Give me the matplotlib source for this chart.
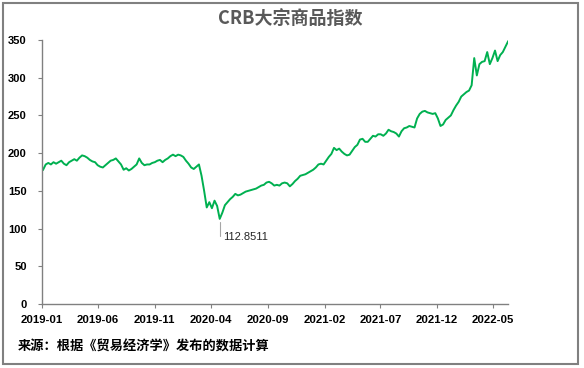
import numpy as np
import pandas as pd
import matplotlib
matplotlib.use('Agg')
import matplotlib.pyplot as plt
from matplotlib.patches import Rectangle

plt.rcParams['font.family'] = ['Liberation Sans', 'Noto Sans CJK SC', 'DejaVu Sans']

# weekly readings of the CRB index (first week of 2019 onward)
start_date = "2019-01-04"
crb_values = [
    178, 185, 187, 185, 188, 186, 188, 190, 186, 184,
    188, 190, 192, 190, 194, 197, 196, 194, 191, 189,
    188, 184, 182, 181, 184, 187, 190, 191, 193, 189,
    185, 178, 180, 177, 179, 182, 185, 193, 187, 184,
    185, 185, 187, 188, 190, 191, 188, 191, 193, 196,
    198, 196, 198, 197, 195, 190, 186, 181, 179, 182,
    185, 170, 150, 128, 135, 127, 137, 130, 112.8511, 121,
    131, 135, 139, 142, 146, 144, 145, 147, 149, 150,
    151, 152, 153, 155, 157, 158, 161, 162, 160, 157,
    158, 157, 160, 161, 160, 156, 159, 163, 166, 170,
    171, 172, 174, 176, 178, 181, 185, 186, 185, 190,
    195, 199, 207, 204, 206, 202, 199, 197, 198, 203,
    208, 211, 218, 219, 215, 215, 219, 223, 222, 225,
    225, 223, 226, 231, 229, 228, 226, 222, 229, 233,
    234, 236, 235, 234, 246, 252, 255, 256, 254, 253,
    252, 253, 246, 236, 238, 244, 247, 250, 257, 263,
    268, 275, 278, 281, 283, 290, 326, 303, 318, 321,
    322, 334, 318, 326, 336, 322, 330, 334, 341, 348,
]
tick_labels = ["2019-01", "2019-06", "2019-11", "2020-04", "2020-09",
               "2021-02", "2021-07", "2021-12", "2022-05"]
y_ticks = [0, 50, 100, 150, 200, 250, 300, 350]

dates = pd.date_range(start_date, periods=len(crb_values), freq="7D")
vals = np.array(crb_values)

fig = plt.figure(figsize=(5.84, 3.68), dpi=100)
ax = fig.add_axes([42/584, 1-304/368, (508-42)/584, (304-40)/368])

ax.plot(dates, vals, color='#00B050', lw=1.4)

ax.set_ylim(0, 350)
ax.set_xlim(pd.Timestamp("2019-01-01"), dates[-1])
ax.set_yticks(y_ticks)
ax.set_yticklabels([str(v) for v in y_ticks], fontsize=8, fontweight='bold')
tick_pos = [pd.Timestamp(t + "-01") for t in tick_labels]
ax.set_xticks(tick_pos)
ax.set_xticklabels(tick_labels, fontsize=8.2, fontweight='bold')
ax.tick_params(axis='both', length=3, color='#808080')
ax.tick_params(axis='y', pad=8)
ax.tick_params(axis='x', pad=5)
for s in ['top', 'right']:
    ax.spines[s].set_visible(False)
for s in ['left', 'bottom']:
    ax.spines[s].set_color('#808080')
    ax.spines[s].set_linewidth(1)

# low point annotation
imin = int(np.argmin(vals))
ax.annotate(f"{vals[imin]:.4f}", xy=(dates[imin], vals[imin]),
            xytext=(dates[imin] + pd.Timedelta(days=9), vals[imin] - 24),
            fontsize=8, color='#262626', va='center', ha='left',
            arrowprops=dict(arrowstyle='-', color='#A6A6A6', lw=0.8,
                            connectionstyle='angle,angleA=0,angleB=90,rad=0',
                            shrinkA=1, shrinkB=2))

fig.text(290/584, 1-18/368, "CRB大宗商品指数", ha='center', va='center',
         fontsize=13, fontweight='bold', color='#595959',
         family=['Noto Sans CJK SC', 'DejaVu Sans'])
fig.text(18/584, 1-347/368, "来源：根据《贸易经济学》发布的数据计算", ha='left', va='center',
         fontsize=9.5, fontweight='bold', color='black',
         family=['Noto Sans CJK SC', 'DejaVu Sans'])

fig.patches.append(Rectangle((3/584, 4/368), 575/584, 361/368, transform=fig.transFigure,
                             fill=False, edgecolor='#808080', lw=1.5))

fig.savefig("out.png", dpi=100)
